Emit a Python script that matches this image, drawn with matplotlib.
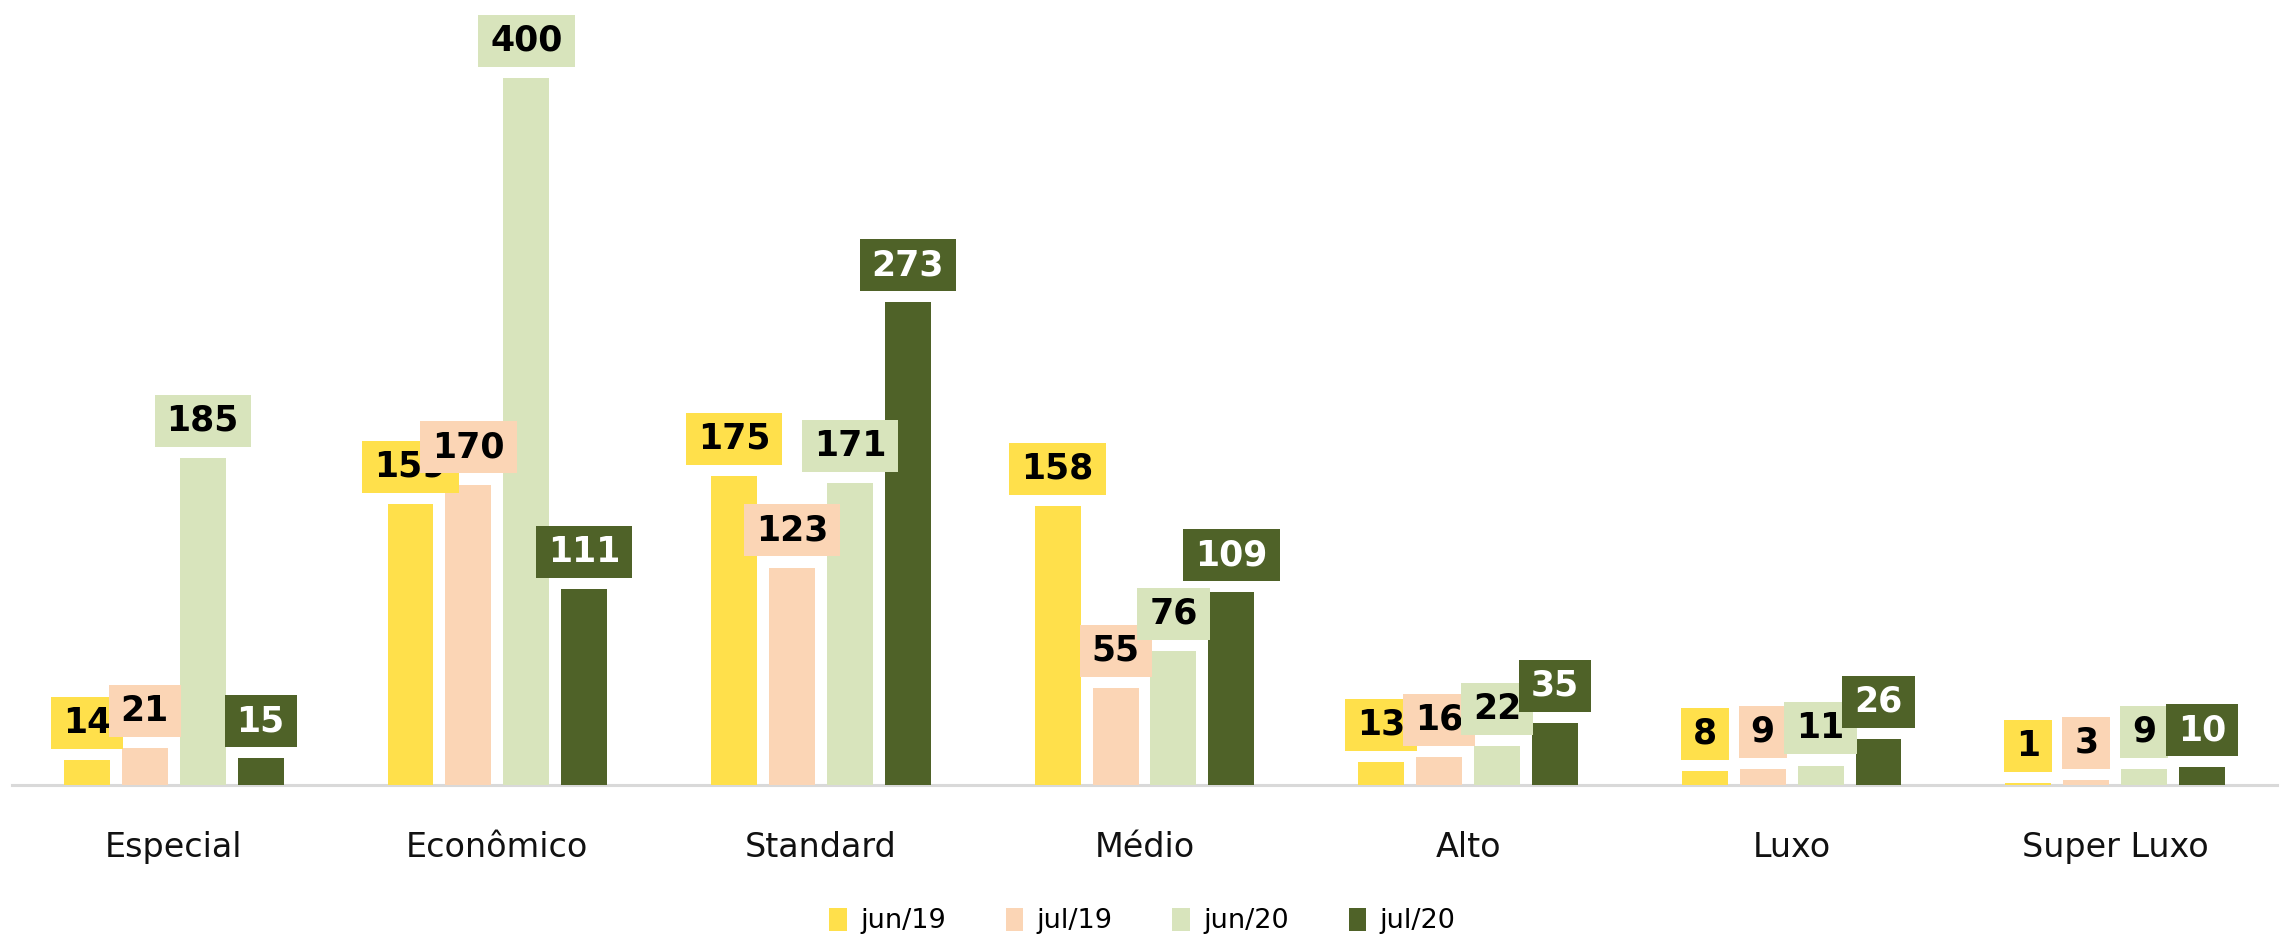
import matplotlib
matplotlib.use("Agg")
import matplotlib.pyplot as plt
from matplotlib.path import Path
import numpy as np

categories = ["Especial", "Econômico", "Standard", "Médio", "Alto", "Luxo", "Super Luxo"]
series_names = ["jun/19", "jul/19", "jun/20", "jul/20"]
jun19 = [14, 159, 175, 158, 13, 8, 1]
jul19 = [21, 170, 123, 55, 16, 9, 3]
jun20 = [185, 400, 171, 76, 22, 11, 9]
jul20 = [15, 111, 273, 109, 35, 26, 10]
values = [jun19, jul19, jun20, jul20]
colors = ["#FFE04B", "#FBD5B5", "#D8E4BC", "#4F6228"]
text_colors = ["black", "black", "black", "white"]

plt.rcParams['font.family'] = ['DejaVu Sans']

W, H = 2285, 944
fig = plt.figure(figsize=(W / 100, H / 100), dpi=100)
left_px, right_px = 12, 2277
base_px, top_px = 785, 6
ax = fig.add_axes([left_px / W, (H - base_px) / H, (right_px - left_px) / W, (base_px - top_px) / H])

ymax = (base_px - top_px) / (707 / 400)
x = np.arange(len(categories))
pitch = 0.179
width = 0.142


def label_box(x0, y0, w, h, mutation_size, padx=12, pady=9):
    xa, ya = x0 - padx, y0 - pady
    xb, yb = x0 + w + padx, y0 + h + pady
    return Path([(xa, ya), (xb, ya), (xb, yb), (xa, yb), (xa, ya)],
                [Path.MOVETO, Path.LINETO, Path.LINETO, Path.LINETO, Path.CLOSEPOLY])


for i, (vals, c, tc) in enumerate(zip(values, colors, text_colors)):
    xs = x + (i - 1.5) * pitch
    ax.bar(xs, vals, width=width, color=c, zorder=2, label=series_names[i])
    for xi, v in zip(xs, vals):
        ax.annotate(str(v), (xi, v), xytext=(0, 14.5), textcoords='offset points',
                    ha='center', va='bottom', fontsize=25, fontweight='bold', color=tc,
                    bbox=dict(boxstyle=label_box, fc=c, ec='none'),
                    zorder=3 + i, annotation_clip=False)

ax.set_xlim(-0.5, len(categories) - 0.5)
ax.set_ylim(0, ymax)
for s in ['top', 'right', 'left']:
    ax.spines[s].set_visible(False)
ax.spines['bottom'].set_color('#D9D9D9')
ax.spines['bottom'].set_linewidth(2.2)
ax.spines['bottom'].set_zorder(1)
ax.set_yticks([])
ax.set_xticks(x)
ax.set_xticklabels(categories, fontsize=24, color='#111111')
ax.tick_params(axis='x', length=0, pad=33)

handles, labels = ax.get_legend_handles_labels()
fig.legend(handles, labels, loc='center', bbox_to_anchor=(0.5, (H - 921) / H), ncol=4,
           frameon=False, fontsize=19.5, handlelength=0.65, handleheight=0.95,
           handletextpad=0.5, columnspacing=2.2)

fig.savefig("out.png", dpi=100)
